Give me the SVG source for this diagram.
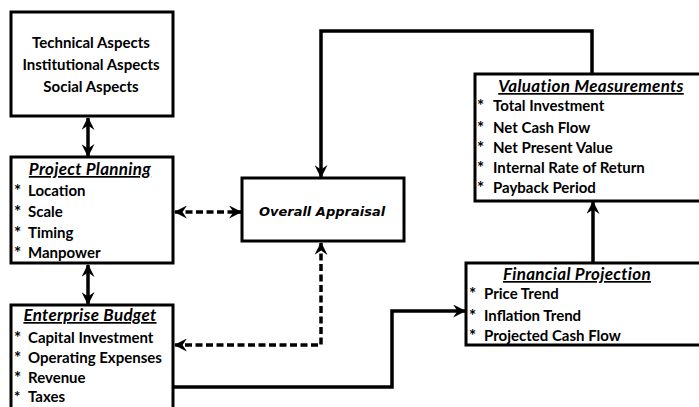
<svg xmlns="http://www.w3.org/2000/svg" width="699" height="407" viewBox="0 0 699 407">
<defs>
<style>
.box{fill:#fff;stroke:#000;stroke-width:3}
.t{font-family:Lato,"Open Sans","Liberation Sans",sans-serif;font-weight:bold;font-size:15px;fill:#000}
.c{text-anchor:middle}
.h{font-style:italic;text-decoration:underline;font-size:17px;letter-spacing:0.3px}
.s{font-size:17px}
.i{font-family:"DejaVu Sans","Liberation Sans",sans-serif;font-style:italic;font-size:13px}
.ln{fill:none;stroke:#000;stroke-width:3.5}
.dash{stroke-dasharray:7,3.5}
</style>
<marker id="ah" viewBox="0 0 12 12" refX="11" refY="6" markerWidth="13" markerHeight="13" markerUnits="userSpaceOnUse" orient="auto-start-reverse">
<path d="M0,0 L12,6 L0,12 L4,6 z" fill="#000"/>
</marker>
</defs>
<g id="connectors">
<path class="ln" d="M88,118 L88,156" marker-start="url(#ah)" marker-end="url(#ah)"/>
<path class="ln" d="M88,265 L88,304" marker-start="url(#ah)" marker-end="url(#ah)"/>
<path class="ln dash" d="M175,212 L241,212" marker-start="url(#ah)" marker-end="url(#ah)"/>
<path class="ln dash" d="M321,243 L321,345 L175,345" marker-start="url(#ah)" marker-end="url(#ah)"/>
<path class="ln" d="M173,387 L392,387 L392,311 L465,311" marker-end="url(#ah)"/>
<path class="ln" d="M593,263 L593,202" marker-end="url(#ah)"/>
<path class="ln" d="M592,74 L592,31 L321,31 L321,177" marker-end="url(#ah)"/>
</g>
<g id="aspects">
<rect class="box" x="11" y="12" width="162" height="104"/>
<text class="t c" x="91" y="48">Technical Aspects</text>
<text class="t c" x="91" y="70">Institutional Aspects</text>
<text class="t c" x="91" y="92">Social Aspects</text>
</g>
<g id="project-planning">
<rect class="box" x="11" y="157" width="162" height="106"/>
<text class="t c h" x="90" y="175">Project Planning</text>
<text class="t s" x="14" y="197">*</text><text class="t" x="28" y="196">Location</text>
<text class="t s" x="14" y="218">*</text><text class="t" x="28" y="217">Scale</text>
<text class="t s" x="14" y="239">*</text><text class="t" x="28" y="238">Timing</text>
<text class="t s" x="14" y="259">*</text><text class="t" x="28" y="258">Manpower</text>
</g>
<g id="enterprise-budget">
<rect class="box" x="11" y="305" width="162" height="112"/>
<text class="t c h" x="90" y="321">Enterprise Budget</text>
<text class="t s" x="14" y="344">*</text><text class="t" x="28" y="343">Capital Investment</text>
<text class="t s" x="14" y="364">*</text><text class="t" x="28" y="363">Operating Expenses</text>
<text class="t s" x="14" y="384">*</text><text class="t" x="28" y="383">Revenue</text>
<text class="t" x="14" y="402">*</text><text class="t" x="28" y="402">Taxes</text>
</g>
<g id="overall-appraisal">
<rect class="box" x="242" y="178" width="162" height="63"/>
<text class="t c i" x="322" y="216">Overall Appraisal</text>
</g>
<g id="valuation-measurements">
<rect class="box" x="475" y="74" width="232" height="127"/>
<text class="t c h" x="591" y="92">Valuation Measurements</text>
<text class="t s" x="477" y="112">*</text><text class="t" x="493" y="111">Total Investment</text>
<text class="t s" x="477" y="134">*</text><text class="t" x="493" y="133">Net Cash Flow</text>
<text class="t s" x="477" y="154">*</text><text class="t" x="493" y="153">Net Present Value</text>
<text class="t s" x="477" y="174">*</text><text class="t" x="493" y="173">Internal Rate of Return</text>
<text class="t s" x="477" y="194">*</text><text class="t" x="493" y="193">Payback Period</text>
</g>
<g id="financial-projection">
<rect class="box" x="466" y="263" width="242" height="82"/>
<text class="t c h" x="577" y="280">Financial Projection</text>
<text class="t s" x="469" y="300">*</text><text class="t" x="484" y="299">Price Trend</text>
<text class="t s" x="469" y="322">*</text><text class="t" x="484" y="321">Inflation Trend</text>
<text class="t s" x="469" y="342">*</text><text class="t" x="484" y="341">Projected Cash Flow</text>
</g>
</svg>
